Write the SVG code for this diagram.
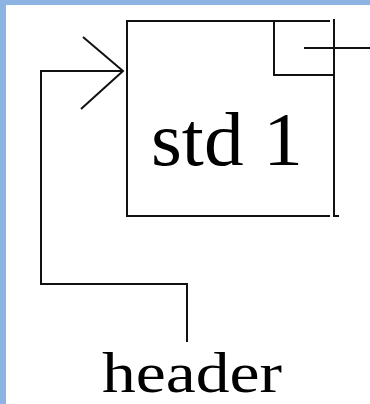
<svg xmlns="http://www.w3.org/2000/svg" width="370" height="404" viewBox="0 0 370 404">
  <style>
    .ln { fill: none; stroke: #111; stroke-width: 2; stroke-linecap: butt; stroke-linejoin: miter; }
    .lbl { font-family: "Liberation Serif", "Times New Roman", serif; fill: #000; }
  </style>
  <!-- frame -->
  <rect x="0" y="0" width="370" height="404" fill="#8db3e2"/>
  <rect x="6" y="5" width="364" height="399" fill="#ffffff"/>

  <!-- list node: data field with pointer field -->
  <g id="node-std1">
    <path class="ln" d="M330 21 H127 V216 H330"/>
    <path class="ln" d="M334 19 V216 H339"/>
    <path class="ln" d="M274 21 V75 H334"/>
    <text class="lbl" x="151" y="165" font-size="77" textLength="152" lengthAdjust="spacingAndGlyphs">std 1</text>
  </g>

  <!-- header label -->
  <g id="node-header">
    <text class="lbl" x="102" y="392" font-size="57" textLength="180" lengthAdjust="spacingAndGlyphs">header</text>
  </g>

  <!-- connectors -->
  <g id="connectors">
    <path class="ln" d="M187 342 V284 H41 V71 H123"/>
    <path class="ln" d="M83 37 L123 71 L81 109"/>
    <path class="ln" d="M304 48 H370"/>
  </g>
</svg>
